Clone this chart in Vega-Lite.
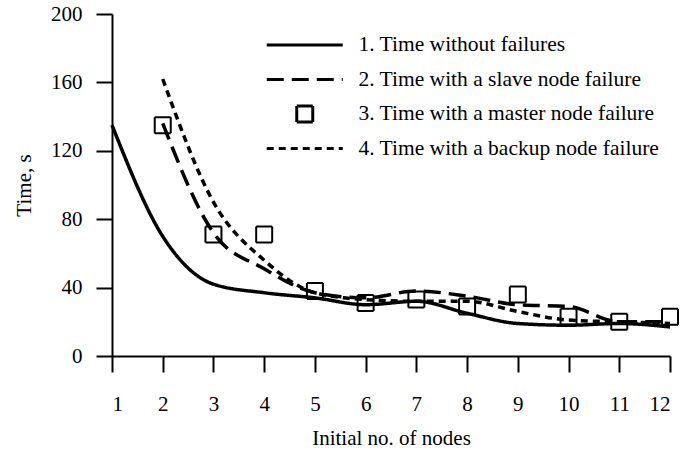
{
  "$schema": "https://vega.github.io/schema/vega-lite/v6.json",
  "width": 558,
  "height": 342,
  "autosize": {"type": "none"},
  "padding": {"left": 112, "top": 14, "right": 11, "bottom": 100},
  "background": "white",
  "data": {
    "values": [
      {"nodes": 1, "time": 135, "series": "1. Time without failures"},
      {"nodes": 2, "time": 70, "series": "1. Time without failures"},
      {"nodes": 3, "time": 42, "series": "1. Time without failures"},
      {"nodes": 4, "time": 37, "series": "1. Time without failures"},
      {"nodes": 5, "time": 34, "series": "1. Time without failures"},
      {"nodes": 6, "time": 30, "series": "1. Time without failures"},
      {"nodes": 7, "time": 32, "series": "1. Time without failures"},
      {"nodes": 8, "time": 25, "series": "1. Time without failures"},
      {"nodes": 9, "time": 19, "series": "1. Time without failures"},
      {"nodes": 10, "time": 18, "series": "1. Time without failures"},
      {"nodes": 11, "time": 19, "series": "1. Time without failures"},
      {"nodes": 12, "time": 17, "series": "1. Time without failures"},
      {"nodes": 2, "time": 136, "series": "2. Time with a slave node failure"},
      {"nodes": 3, "time": 72, "series": "2. Time with a slave node failure"},
      {"nodes": 4, "time": 51, "series": "2. Time with a slave node failure"},
      {"nodes": 5, "time": 37, "series": "2. Time with a slave node failure"},
      {"nodes": 6, "time": 34, "series": "2. Time with a slave node failure"},
      {"nodes": 7, "time": 38, "series": "2. Time with a slave node failure"},
      {"nodes": 8, "time": 35, "series": "2. Time with a slave node failure"},
      {"nodes": 9, "time": 30, "series": "2. Time with a slave node failure"},
      {"nodes": 10, "time": 29, "series": "2. Time with a slave node failure"},
      {"nodes": 11, "time": 20, "series": "2. Time with a slave node failure"},
      {"nodes": 12, "time": 20, "series": "2. Time with a slave node failure"},
      {"nodes": 2, "time": 135, "series": "3. Time with a master node failure"},
      {"nodes": 3, "time": 71, "series": "3. Time with a master node failure"},
      {"nodes": 4, "time": 71, "series": "3. Time with a master node failure"},
      {"nodes": 5, "time": 38, "series": "3. Time with a master node failure"},
      {"nodes": 6, "time": 31, "series": "3. Time with a master node failure"},
      {"nodes": 7, "time": 33, "series": "3. Time with a master node failure"},
      {"nodes": 8, "time": 29, "series": "3. Time with a master node failure"},
      {"nodes": 9, "time": 36, "series": "3. Time with a master node failure"},
      {"nodes": 10, "time": 23, "series": "3. Time with a master node failure"},
      {"nodes": 11, "time": 20, "series": "3. Time with a master node failure"},
      {"nodes": 12, "time": 23, "series": "3. Time with a master node failure"},
      {"nodes": 2, "time": 162, "series": "4. Time with a backup node failure"},
      {"nodes": 3, "time": 90, "series": "4. Time with a backup node failure"},
      {"nodes": 4, "time": 56, "series": "4. Time with a backup node failure"},
      {"nodes": 5, "time": 37, "series": "4. Time with a backup node failure"},
      {"nodes": 6, "time": 33, "series": "4. Time with a backup node failure"},
      {"nodes": 7, "time": 32, "series": "4. Time with a backup node failure"},
      {"nodes": 8, "time": 32, "series": "4. Time with a backup node failure"},
      {"nodes": 9, "time": 26, "series": "4. Time with a backup node failure"},
      {"nodes": 10, "time": 21, "series": "4. Time with a backup node failure"},
      {"nodes": 11, "time": 20, "series": "4. Time with a backup node failure"},
      {"nodes": 12, "time": 19, "series": "4. Time with a backup node failure"}
    ]
  },
  "encoding": {
    "x": {
      "field": "nodes",
      "type": "quantitative",
      "scale": {"domain": [1, 12], "nice": false, "zero": false},
      "axis": {
        "title": "Initial no. of nodes",
        "values": [1, 2, 3, 4, 5, 6, 7, 8, 9, 10, 11, 12],
        "labelPadding": 21,
        "titlePadding": 13,
        "grid": false
      }
    },
    "y": {
      "field": "time",
      "type": "quantitative",
      "scale": {"domain": [0, 200], "nice": false},
      "axis": {
        "title": "Time, s",
        "values": [0, 40, 80, 120, 160, 200],
        "labelPadding": 14,
        "titlePadding": 16,
        "grid": false
      }
    }
  },
  "layer": [
    {
      "transform": [{"filter": "datum.series !== '3. Time with a master node failure'"}],
      "mark": {"type": "line", "interpolate": "monotone", "color": "black", "strokeWidth": 3.5},
      "encoding": {
        "strokeDash": {
          "field": "series",
          "type": "nominal",
          "scale": {
            "domain": ["1. Time without failures", "2. Time with a slave node failure", "3. Time with a master node failure", "4. Time with a backup node failure"],
            "range": [[1, 0], [17, 8], [1, 0], [7, 5]]
          },
          "legend": {"orient": "none", "legendX": 150, "legendY": 21, "title": null}
        }
      }
    },
    {
      "transform": [{"filter": "datum.series === '3. Time with a master node failure'"}],
      "mark": {"type": "point", "filled": false, "color": "black", "strokeWidth": 2, "size": 256, "opacity": 1},
      "encoding": {
        "shape": {
          "field": "series",
          "type": "nominal",
          "scale": {
            "domain": ["1. Time without failures", "2. Time with a slave node failure", "3. Time with a master node failure", "4. Time with a backup node failure"],
            "range": ["M-4.75,0H4.75", "M-4.75,0H4.75", "square", "M-4.75,0H4.75"]
          },
          "legend": {"orient": "none", "legendX": 150, "legendY": 21, "title": null}
        },
        "strokeDash": {
          "field": "series",
          "type": "nominal",
          "legend": {"orient": "none", "legendX": 150, "legendY": 21, "title": null}
        }
      }
    }
  ],
  "config": {
    "view": {"stroke": null},
    "font": "Liberation Serif",
    "axis": {
      "domainColor": "black",
      "domainWidth": 2,
      "tickColor": "black",
      "tickWidth": 2,
      "tickSize": 16,
      "labelFont": "Liberation Serif",
      "labelFontSize": 21,
      "labelColor": "black",
      "titleFont": "Liberation Serif",
      "titleFontSize": 21,
      "titleFontWeight": "normal",
      "titleColor": "black"
    },
    "legend": {
      "labelFont": "Liberation Serif",
      "labelFontSize": 21.5,
      "labelColor": "black",
      "labelLimit": 400,
      "symbolSize": 256,
      "symbolStrokeWidth": 3,
      "symbolStrokeColor": "black",
      "symbolFillColor": "transparent",
      "symbolOffset": 32,
      "labelOffset": 43,
      "clipHeight": 20,
      "rowPadding": 12.5,
      "padding": 0
    }
  }
}
